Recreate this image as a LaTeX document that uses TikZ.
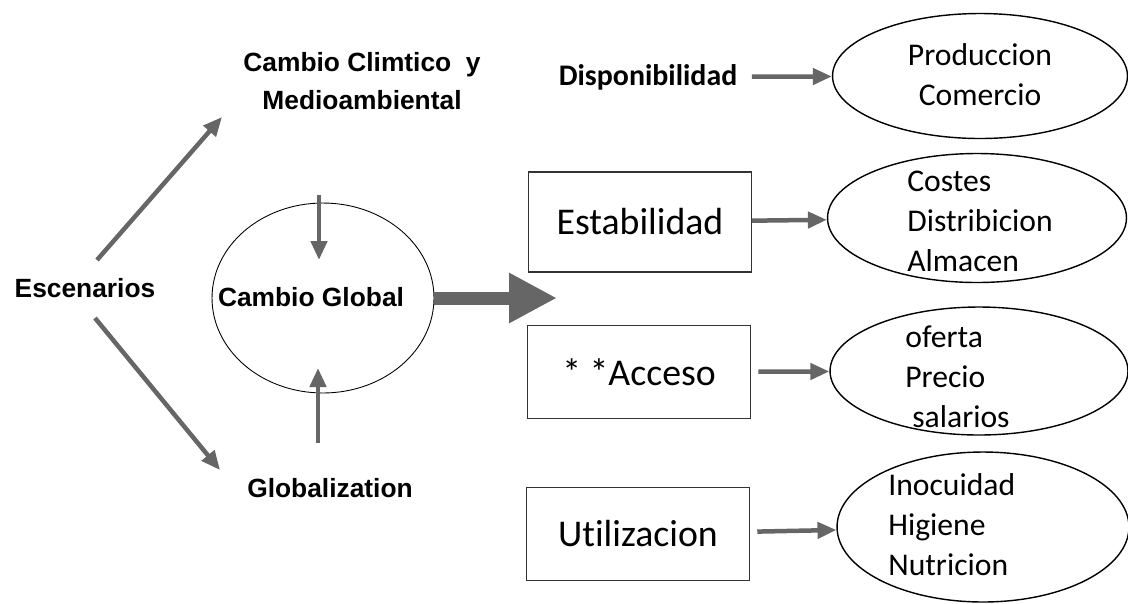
\documentclass[tikz,border=0pt]{standalone}
\usepackage{fontspec}
\setmainfont{Carlito}[Ligatures=NoCommon]
\newfontfamily\gotica{Liberation Sans}
\usetikzlibrary{shapes}
\usetikzlibrary{arrows.meta}
\tikzset{
	rotulo/.style = {align=center, inner sep=1pt,
		font=\gotica\bfseries\fontsize{15}{21.5}\selectfont},% texto en negrita
	caja/.style = {rectangle, draw=black!80, line width=0.6pt,
		minimum width=4.45cm, minimum height=1.85cm,
		font=\fontsize{21.5}{26}\selectfont},% caja de cada dimension
	elipse/.style = {ellipse, draw=black, line width=0.8pt, inner sep=0pt},% elipse vacia
	lista/.style = {align=left, inner sep=0pt,
		font=\fontsize{18}{22.7}\selectfont},% texto de la elipse
	flecha/.style = {-{Triangle[length=3.8mm, width=3.2mm]}, line width=0.9mm, black!60},
	flechagorda/.style = {-{Triangle[length=9.6mm, width=9.4mm]}, line width=2.6mm, black!60}
}

\begin{document}
\begin{tikzpicture}[x=0.02cm, y=-0.02cm]
	\useasboundingbox (0,0) rectangle (1128,603);
	% escenarios y cambio global
	\node [rotulo] (esc) at (85,288) {Escenarios};
	\node [rotulo] (clima) at (362,81) {Cambio Climtico~ y\\Medioambiental};
	\node [rotulo] (glob) at (330,488) {Globalization};
	\node [elipse, line width=0.5pt, minimum width=4.44cm, minimum height=3.8cm] (cg) at (323,298) {};
	\node [rotulo] (cgtxt) at (311,297) {Cambio Global};
	\coordinate (c1) at (97,260);
	\coordinate (c2) at (222,117);
	\coordinate (d1) at (95,318);
	\coordinate (d2) at (220,470);
	\coordinate (a1) at (319,195);
	\coordinate (a2) at (319,260);
	\coordinate (b1) at (318,443);
	\coordinate (b2) at (318,368);
	\coordinate (punta) at (557,298);
	\draw [flecha] (c1) -- (c2);
	\draw [flecha] (d1) -- (d2);
	\draw [flecha] (a1) -- (a2);
	\draw [flecha] (b1) -- (b2);
	\draw [flechagorda] (cg) -- (punta);
	% dimensiones
	\node [rotulo, font=\bfseries\fontsize{17}{20}\selectfont] (disp) at (648,77) {Disponibilidad};
	\node [caja, minimum height=2cm] (estab) at (640,222) {Estabilidad};
	\node [caja] (acceso) at (639,372) {* *Acceso};
	\node [caja] (util) at (638,534) {Utilizacion};
	% elipses
	\node [elipse, minimum width=5.9cm, minimum height=2.5cm] (e1) at (980,76) {};
	\node [lista, align=center] (t1) at (980,75) {Produccion\\Comercio};
	\node [elipse, minimum width=5.98cm, minimum height=2.58cm] (e2) at (977,218) {};
	\node [lista, anchor=west] (t2) at (907,221) {Costes\\Distribicion\\Almacen};
	\node [elipse, minimum width=5.96cm, minimum height=2.56cm] (e3) at (979,371) {};
	\node [lista, anchor=west] (t3) at (905,377) {oferta\\Precio\\\hspace*{1.4mm}salarios};
	\node [elipse, minimum width=5.84cm, minimum height=3cm] (e4) at (983,527) {};
	\node [lista, anchor=west] (t4) at (888,525) {Inocuidad\\Higiene\\Nutricion};
	\draw [flecha, shorten <=2.5mm] (disp) -- (e1);
	\draw [flecha] (estab) -- (e2);
	\draw [flecha, shorten <=1.5mm] (acceso) -- (e3);
	\draw [flecha, shorten <=1.5mm] (util) -- (e4);
\end{tikzpicture}
\end{document}
